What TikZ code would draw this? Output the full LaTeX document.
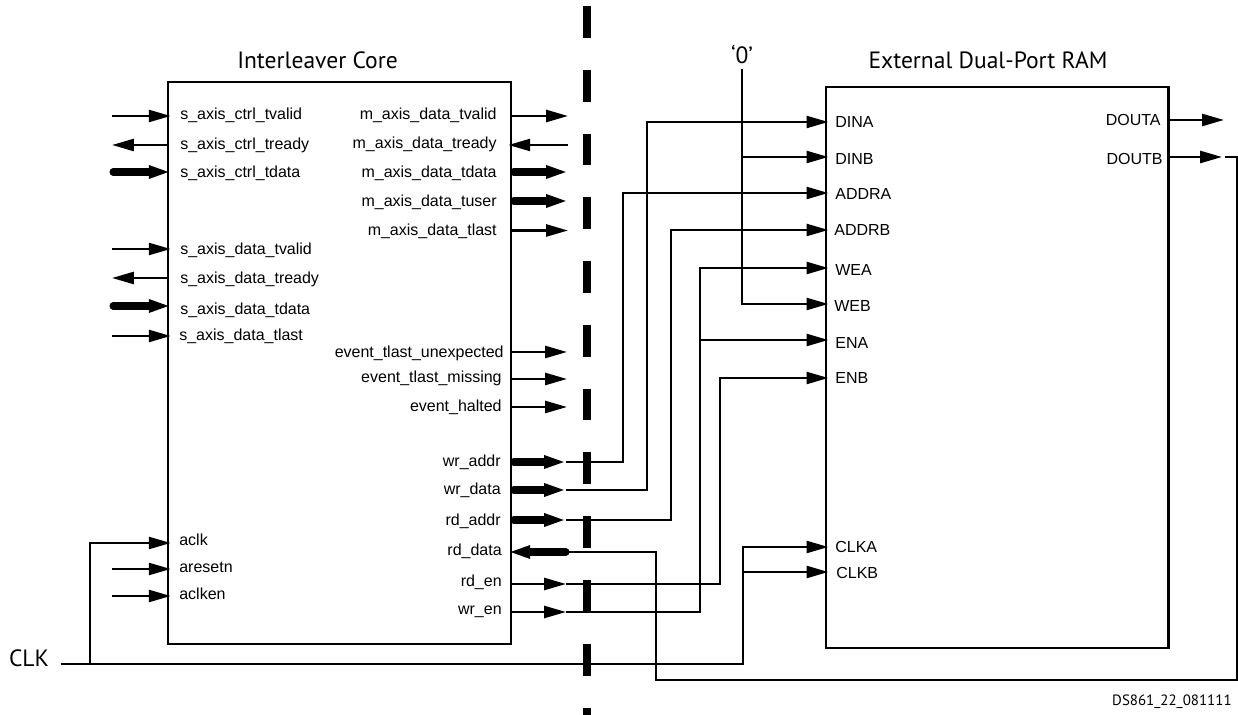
\documentclass[tikz,border=0pt]{standalone}
\usepackage{fontspec}
\usepackage{xcolor}
\setmainfont{Liberation Sans}
\newfontfamily\titlefont{PT Sans}
\usetikzlibrary{arrows.meta,positioning,calc}

\begin{document}
\begin{tikzpicture}[
    x=0.02cm, y=-0.02cm,
    blockbox/.style={rectangle, draw=black, line width=1.4pt, inner sep=0pt, outer sep=0pt, minimum width=6.86cm, minimum height=11.24cm},
    title/.style={font=\titlefont\fontsize{13.4pt}{15pt}\selectfont, inner sep=0pt, anchor=base},
    port/.style={font=\fontsize{9.1pt}{11pt}\selectfont, inner sep=0pt},
    portl/.style={port, anchor=base west},
    portr/.style={port, anchor=base east},
    sig/.style={line width=1.4pt, -{Triangle[length=12.4pt,width=6.8pt]}},
    bus/.style={line width=4pt, line cap=round, -{Triangle[length=12.4pt,width=6.8pt]}},
    sigin/.style={sig, shorten >=-1.5pt},
    busin/.style={bus, shorten >=-1.5pt},
    busout/.style={bus, shorten <=1.5pt},
    wire/.style={line width=1.4pt},
    cut/.style={line width=4.5pt, dash pattern=on 18.1pt off 18.2pt}
]
    \useasboundingbox (0,0) rectangle (1238,715);

    % Blocks
    \node[blockbox] (core) at (339.5,363) {};
    \node[blockbox, minimum height=11.22cm] (ram) at (997.2,367.5) {};
    \node[title] (coretitle) at (317.5,69) {Interleaver Core};
    \node[title] (ramtitle) at (988,69) {External Dual-Port RAM};

    % Cut line
    \coordinate (cuttop) at (587,6);
    \coordinate (cutbot) at (587,722);
    \draw[cut] (cuttop) -- (cutbot);

    % Slave side
    \coordinate (sctvalid) at (112,116);
    \coordinate (sctready) at (112,145);
    \coordinate (sctdata) at (113,172);
    \coordinate (sdtvalid) at (112,249);
    \coordinate (sdtready) at (112,278);
    \coordinate (sdtdata) at (113,306);
    \coordinate (sdtlast) at (112,336);
    \coordinate (aresetnin) at (112,569);
    \coordinate (aclkenin) at (112,596);
    \node[portl] (sctvalidl) at (180,120) {s\_axis\_ctrl\_tvalid};
    \node[portl] (sctreadyl) at (180,150) {s\_axis\_ctrl\_tready};
    \node[portl] (sctdatal) at (180,178) {s\_axis\_ctrl\_tdata};
    \node[portl] (sdtvalidl) at (180,255) {s\_axis\_data\_tvalid};
    \node[portl] (sdtreadyl) at (180,284) {s\_axis\_data\_tready};
    \node[portl] (sdtdatal) at (180,315) {s\_axis\_data\_tdata};
    \node[portl] (sdtlastl) at (179,341) {s\_axis\_data\_tlast};
    \node[portl] (aclkl) at (179,546) {aclk};
    \node[portl] (aresetnl) at (179,573) {aresetn};
    \node[portl] (aclkenl) at (179,600) {aclken};
    \draw[sigin] (sctvalid) -- (sctvalid -| core.west);
    \draw[sig] (sctready -| core.west) -- (sctready);
    \draw[busin] (sctdata) -- (sctdata -| core.west);
    \draw[sigin] (sdtvalid) -- (sdtvalid -| core.west);
    \draw[sig] (sdtready -| core.west) -- (sdtready);
    \draw[busin] (sdtdata) -- (sdtdata -| core.west);
    \draw[sigin] (sdtlast) -- (sdtlast -| core.west);
    \draw[sigin] (aresetnin) -- (aresetnin -| core.west);
    \draw[sigin] (aclkenin) -- (aclkenin -| core.west);

    % Master side
    \coordinate (mtvalid) at (568,116);
    \coordinate (mtready) at (568,145);
    \coordinate (mtdata) at (568,172);
    \coordinate (mtuser) at (568,201);
    \coordinate (mtlast) at (568,230.5);
    \coordinate (evunexp) at (567,352);
    \coordinate (evmiss) at (567,379);
    \coordinate (evhalt) at (567,407);
    \coordinate (wraddr) at (566,462);
    \coordinate (wrdata) at (566,490);
    \coordinate (rdaddr) at (566,520);
    \coordinate (rddata) at (566,552);
    \coordinate (rden) at (566,584);
    \coordinate (wren) at (566,612);
    \node[portr] (mtvalidl) at (497,120) {m\_axis\_data\_tvalid};
    \node[portr] (mtreadyl) at (497,149) {m\_axis\_data\_tready};
    \node[portr] (mtdatal) at (497,178) {m\_axis\_data\_tdata};
    \node[portr] (mtuserl) at (497,207) {m\_axis\_data\_tuser};
    \node[portr] (mtlastl) at (497,236) {m\_axis\_data\_tlast};
    \node[portr] (evunexpl) at (504,358) {event\_tlast\_unexpected};
    \node[portr] (evmissl) at (502,383) {event\_tlast\_missing};
    \node[portr] (evhaltl) at (502,412) {event\_halted};
    \node[portr] (wraddrl) at (501,467) {wr\_addr};
    \node[portr] (wrdatal) at (501,495) {wr\_data};
    \node[portr] (rdaddrl) at (501,526) {rd\_addr};
    \node[portr] (rddatal) at (502,556) {rd\_data};
    \node[portr] (rdenl) at (502,587) {rd\_en};
    \node[portr] (wrenl) at (502,615) {wr\_en};
    \draw[sig] (mtvalid -| core.east) -- (mtvalid);
    \draw[sigin] (mtready) -- (mtready -| core.east);
    \draw[busout] (mtdata -| core.east) -- (mtdata);
    \draw[busout] (mtuser -| core.east) -- (mtuser);
    \draw[sig] (mtlast -| core.east) -- (mtlast);
    \draw[sig] (evunexp -| core.east) -- (evunexp);
    \draw[sig] (evmiss -| core.east) -- (evmiss);
    \draw[sig] (evhalt -| core.east) -- (evhalt);
    \draw[busout] (wraddr -| core.east) -- (wraddr);
    \draw[busout] (wrdata -| core.east) -- (wrdata);
    \draw[busout] (rdaddr -| core.east) -- (rdaddr);
    \draw[busin] (rddata) -- (rddata -| core.east);
    \draw[sig] (rden -| core.east) -- (rden);
    \draw[sig] (wren -| core.east) -- (wren);

    % RAM ports
    \coordinate (dina) at (ram.west |- 0,122);
    \coordinate (dinb) at (ram.west |- 0,157);
    \coordinate (addra) at (ram.west |- 0,193);
    \coordinate (addrb) at (ram.west |- 0,230);
    \coordinate (wea) at (ram.west |- 0,268);
    \coordinate (web) at (ram.west |- 0,304);
    \coordinate (ena) at (ram.west |- 0,340);
    \coordinate (enb) at (ram.west |- 0,378);
    \coordinate (clka) at (ram.west |- 0,547);
    \coordinate (clkb) at (ram.west |- 0,572);
    \coordinate (douta) at (1224,120);
    \coordinate (doutb) at (1222,157);
    \node[portl] (dinal) at (835,128) {DINA};
    \node[portl] (dinbl) at (835,165) {DINB};
    \node[portl] (addral) at (835,200) {ADDRA};
    \node[portl] (addrbl) at (834,236) {ADDRB};
    \node[portl] (weal) at (835,276) {WEA};
    \node[portl] (webl) at (834,312) {WEB};
    \node[portl] (enal) at (835,349) {ENA};
    \node[portl] (enbl) at (835,384) {ENB};
    \node[portl] (clkal) at (835,553) {CLKA};
    \node[portl] (clkbl) at (836,579) {CLKB};
    \node[portr] (doutal) at (1161,126) {DOUTA};
    \node[portr] (doutbl) at (1163,165) {DOUTB};
    \draw[sig] (douta -| ram.east) -- (douta);
    \draw[sig] (doutb -| ram.east) -- (doutb);

    % Wires between blocks
    \draw[sigin] (wraddr) -- ++(57,0) |- (addra);
    \draw[sigin] (wrdata) -- ++(81,0) |- (dina);
    \draw[sigin] (rdaddr) -- ++(105,0) |- (addrb);
    \draw[sigin] (rden) -- ++(154,0) |- (enb);
    \draw[sigin] (wren) -- ++(134,0) |- (wea);
    \coordinate (enabr) at (700,340);
    \draw[sigin] (enabr) -- (ena);

    % Constant
    \node[title] (zero) at (742,64) {‘0’};
    \coordinate (zerotop) at (742,69);
    \coordinate (dinbbr) at (742,157);
    \draw[sigin] (zerotop) |- (web);
    \draw[sigin] (dinbbr) -- (dinb);

    % Clock
    \node[title] (clkl) at (29,667) {CLK};
    \coordinate (clkin) at (60.5,664);
    \coordinate (clkbr) at (743,572);
    \coordinate (aclkbr) at (90,664);
    \coordinate (aclkin) at (core.west |- 0,543);
    \draw[wire] (clkin) -| (clkbr);
    \draw[sigin] (clkbr) -- (clkb);
    \draw[sigin] (clkbr) |- (clka);
    \draw[sigin] (aclkbr) |- (aclkin);

    % Read data return
    \coordinate (doutbend) at (1225,157);
    \draw[wire] (rddata) -| (656,680) -| (1237,157) -- (doutbend);

    \node[font=\titlefont\fontsize{8.5pt}{10pt}\selectfont, inner sep=0pt, anchor=base east] (partno) at (1232,706) {DS861\_22\_081111};
\end{tikzpicture}
\end{document}
